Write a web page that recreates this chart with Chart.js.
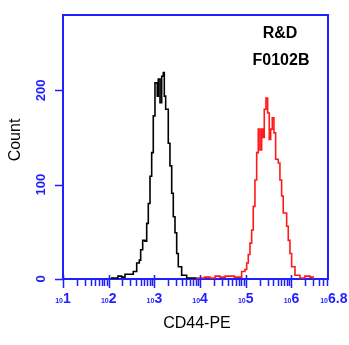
<!DOCTYPE html>
<html>
<head>
<meta charset="utf-8">
<script src="https://cdn.jsdelivr.net/npm/chart.js@4.4.1/dist/chart.umd.min.js"></script>
<style>
  html, body { margin: 0; padding: 0; background: #fff; }
  #box { width: 349px; height: 345px; }
</style>
</head>
<body>
<div id="box"><canvas id="cd44"></canvas></div>
<script>
// channel positions are in decades (log10 of fluorescence)
const controlExp = [2.05, 2.066, 2.203, 2.284, 2.357, 2.503, 2.538, 2.613, 2.670, 2.700, 2.744, 2.794, 2.832, 2.867, 2.904, 2.941, 2.976, 3.013, 3.063, 3.085, 3.123, 3.160, 3.195, 3.217, 3.247, 3.304, 3.341, 3.379, 3.414, 3.451, 3.488, 3.523, 3.597, 3.707, 3.888];
const controlCount = [0, 1, 3, 2, 5, 5, 8, 17, 20, 31, 41, 40, 59, 80, 109, 134, 173, 208, 194, 212, 187, 215, 219, 194, 180, 144, 120, 91, 66, 49, 27, 13, 4, 1, 0];

const stainedExp = [3.78, 3.90, 4.00, 4.10, 4.217, 4.33, 4.435, 4.55, 4.654, 4.75, 4.801, 4.910, 4.982, 5.020, 5.055, 5.092, 5.129, 5.164, 5.201, 5.239, 5.274, 5.311, 5.348, 5.383, 5.405, 5.442, 5.479, 5.514, 5.545, 5.580, 5.617, 5.654, 5.711, 5.748, 5.785, 5.820, 5.895, 5.930, 5.967, 6.004, 6.077, 6.186, 6.295, 6.405, 6.477];
const stainedCount = [0, 1, 1, 2, 1, 3, 2, 3, 3, 2, 2, 8, 10, 17, 26, 38, 52, 77, 105, 134, 159, 137, 159, 150, 180, 192, 176, 148, 159, 171, 155, 127, 123, 105, 88, 70, 56, 41, 27, 13, 4, 1, 3, 2, 0];

const decadeExp = [1, 2, 3, 4, 5, 6, 6.8];
const decadeText = ['1', '2', '3', '4', '5', '6', '6.8'];
const countTicks = [0, 100, 200];

const AXIS_BLUE = '#1f1fff';
const FONT = '"Liberation Sans", Arial, sans-serif';

function toPoints(exps, counts) {
  return exps.map((e, i) => ({ x: Math.pow(10, e), y: counts[i] }));
}

// blue frame, axis ticks, labels and the sample tag
const flowAxes = {
  id: 'flowAxes',
  beforeDatasetsDraw(chart) {
    const { ctx, chartArea: a } = chart;
    ctx.save();
    ctx.strokeStyle = AXIS_BLUE;
    ctx.lineWidth = 2;
    ctx.strokeRect(a.left, a.top, a.right - a.left, a.bottom - a.top);
    ctx.restore();
  },
  afterDraw(chart) {
    const { ctx, chartArea: a } = chart;
    const xs = chart.scales.x, ys = chart.scales.y;
    ctx.save();
    ctx.strokeStyle = AXIS_BLUE;
    ctx.fillStyle = AXIS_BLUE;
    ctx.lineWidth = 1.5;

    // x tick marks: 1..9 of every decade
    ctx.beginPath();
    for (let n = 1; n <= 6; n++) {
      for (let k = 1; k <= 9; k++) {
        const v = k * Math.pow(10, n);
        if (v > xs.max) break;
        const px = Math.round(xs.getPixelForValue(v)) + 0.5;
        ctx.moveTo(px, k === 1 ? a.bottom - 4 : a.bottom);
        ctx.lineTo(px, a.bottom + (k === 1 ? 9 : 7));
      }
    }
    const endPx = Math.round(xs.getPixelForValue(xs.max)) - 0.5;
    ctx.moveTo(endPx, a.bottom);
    ctx.lineTo(endPx, a.bottom + 7);
    ctx.stroke();

    // x decade labels: small "10" with the exponent beside it
    ctx.textBaseline = 'alphabetic';
    decadeExp.forEach((e, i) => {
      const px = xs.getPixelForValue(Math.pow(10, e));
      ctx.font = 'bold 7px ' + FONT;
      ctx.textAlign = 'right';
      ctx.fillText('10', px, a.bottom + 24);
      ctx.font = 'bold 14px ' + FONT;
      ctx.textAlign = 'left';
      ctx.fillText(decadeText[i], px, a.bottom + 24);
    });

    // y ticks and rotated labels
    ctx.beginPath();
    countTicks.forEach(v => {
      const py = Math.round(ys.getPixelForValue(v)) + 0.5;
      ctx.moveTo(a.left - 8, py);
      ctx.lineTo(a.left, py);
    });
    ctx.stroke();
    ctx.font = 'bold 13px ' + FONT;
    ctx.textAlign = 'center';
    ctx.textBaseline = 'middle';
    countTicks.forEach(v => {
      const py = ys.getPixelForValue(v);
      ctx.save();
      ctx.translate(a.left - 22, py);
      ctx.rotate(-Math.PI / 2);
      ctx.fillText(String(v), 0, 0);
      ctx.restore();
    });

    // axis titles
    ctx.fillStyle = '#000';
    ctx.font = '16px ' + FONT;
    ctx.fillText('CD44-PE', 197, 324);
    ctx.save();
    ctx.translate(16, 140);
    ctx.rotate(-Math.PI / 2);
    ctx.fillText('Count', 0, 0);
    ctx.restore();

    // sample tag
    ctx.font = 'bold 16px ' + FONT;
    ctx.fillText('R&D', 280, 34);
    ctx.fillText('F0102B', 281, 61);
    ctx.restore();
  }
};

const chart = new Chart(document.getElementById('cd44'), {
  type: 'line',
  data: {
    datasets: [
      {
        label: 'Control',
        data: toPoints(controlExp, controlCount),
        borderColor: '#000000',
        borderWidth: 1.6,
        stepped: true,
        pointRadius: 0,
        fill: false
      },
      {
        label: 'CD44',
        data: toPoints(stainedExp, stainedCount),
        borderColor: '#ff1a1a',
        borderWidth: 1.6,
        stepped: true,
        pointRadius: 0,
        fill: false
      }
    ]
  },
  options: {
    responsive: true,
    maintainAspectRatio: false,
    animation: false,
    layout: { padding: { left: 63, top: 15, right: 21, bottom: 66 } },
    plugins: {
      legend: { display: false },
      tooltip: { enabled: false }
    },
    scales: {
      x: { type: 'logarithmic', min: 10, max: Math.pow(10, 6.8), display: false },
      y: { type: 'linear', min: 0, max: 280, display: false }
    }
  },
  plugins: [flowAxes]
});
</script>
</body>
</html>
